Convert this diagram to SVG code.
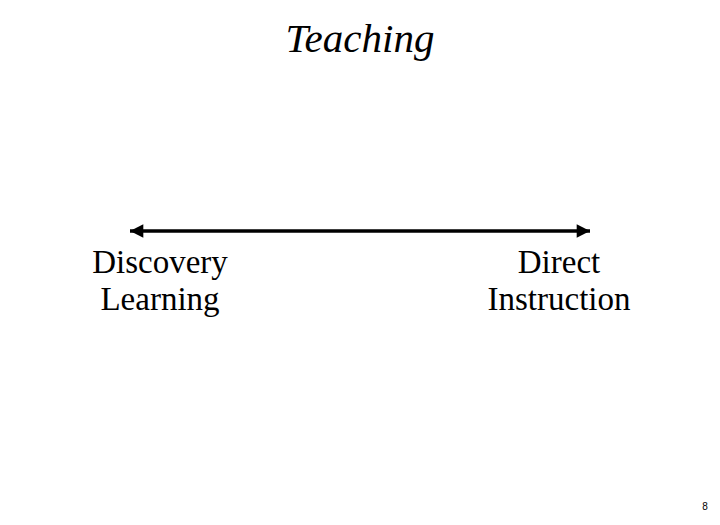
<svg xmlns="http://www.w3.org/2000/svg" width="720" height="525" viewBox="0 0 720 525">
<style>
.lbl{font-family:"Liberation Serif","DejaVu Serif",serif;font-size:33px;fill:#000;text-anchor:middle}
</style>
<defs>
<marker id="ah" viewBox="0 0 10 10" refX="10" refY="5" markerWidth="4.4" markerHeight="3.8" orient="auto-start-reverse" markerUnits="strokeWidth"><path d="M0,0 L10,5 L0,10 Z" fill="#000"/></marker>
</defs>
<rect width="720" height="525" fill="#fff"/>
<text x="360" y="52" font-family="Liberation Serif, serif" font-style="italic" font-size="41" text-anchor="middle">Teaching</text>
<g id="connectors">
<line x1="130" y1="231" x2="590" y2="231" stroke="#000" stroke-width="3.5" marker-start="url(#ah)" marker-end="url(#ah)"/>
</g>
<g id="discovery">
<text class="lbl" x="160" y="273">Discovery</text>
<text class="lbl" x="160" y="310">Learning</text>
</g>
<g id="direct">
<text class="lbl" x="559" y="273">Direct</text>
<text class="lbl" x="559" y="310">Instruction</text>
</g>
<text x="705" y="510" font-family="Liberation Sans, sans-serif" font-size="10" text-anchor="middle">8</text>
</svg>
